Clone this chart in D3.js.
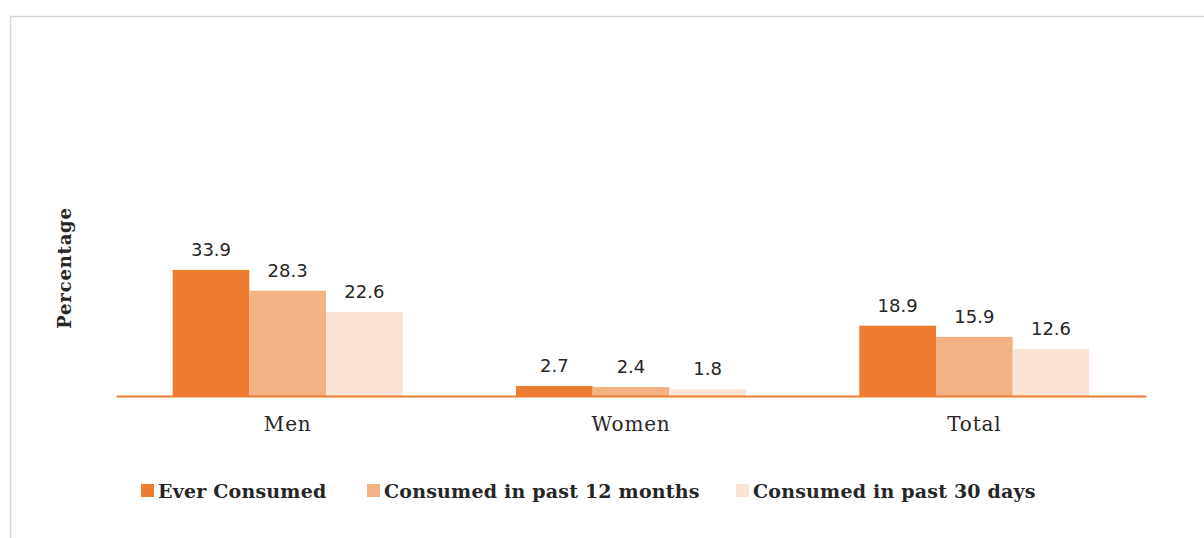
<!DOCTYPE html>
<html>
<head>
<meta charset="utf-8">
<script src="https://cdn.jsdelivr.net/npm/d3@7"></script>
<style>
  body { margin: 0; background: #fff; }
  svg { display: block; }
</style>
</head>
<body>
<svg width="1204" height="538"></svg>
<script>
const categories = ["Men", "Women", "Total"];
const seriesNames = ["Ever Consumed", "Consumed in past 12 months", "Consumed in past 30 days"];
const everConsumed = [33.9, 2.7, 18.9];
const past12Months = [28.3, 2.4, 15.9];
const past30Days = [22.6, 1.8, 12.6];
const colors = ["#ED7D31", "#F4B183", "#FBE3D6"];

const seriesValues = [everConsumed, past12Months, past30Days];

const width = 1204, height = 538;
const margin = {top: 24, right: 58, bottom: 142, left: 116};

const svg = d3.select("svg");

// chart frame
svg.append("rect")
    .attr("x", 10.5).attr("y", 16.5)
    .attr("width", 1300).attr("height", 600)
    .attr("fill", "none")
    .attr("stroke", "#D9D9D9")
    .attr("stroke-width", 1.5);

const plotW = width - margin.left - margin.right;
const plotH = height - margin.top - margin.bottom;

const g = svg.append("g")
    .attr("transform", `translate(${margin.left}, ${margin.top})`);

const x0 = d3.scaleBand()
    .domain(categories)
    .range([0, plotW])
    .paddingInner(0.33)
    .paddingOuter(0.165);

const x1 = d3.scaleBand()
    .domain(seriesNames)
    .range([0, x0.bandwidth()]);

const y = d3.scaleLinear()
    .domain([0, 100])
    .range([plotH, 0]);

const data = categories.map((c, i) => ({
    cat: c,
    vals: seriesNames.map((s, j) => ({series: s, value: seriesValues[j][i], color: colors[j]}))
}));

const groups = g.selectAll(".grp")
    .data(data)
    .join("g")
    .attr("class", "grp")
    .attr("transform", d => `translate(${x0(d.cat)}, 0)`);

groups.selectAll("rect")
    .data(d => d.vals)
    .join("rect")
    .attr("x", d => x1(d.series))
    .attr("y", d => y(d.value))
    .attr("width", x1.bandwidth())
    .attr("height", d => y(0) - y(d.value))
    .attr("fill", d => d.color);

groups.selectAll("text")
    .data(d => d.vals)
    .join("text")
    .attr("x", d => x1(d.series) + x1.bandwidth() / 2)
    .attr("y", d => y(d.value) - 14)
    .attr("text-anchor", "middle")
    .attr("font-family", "DejaVu Sans")
    .attr("font-size", "18px")
    .attr("fill", "#262626")
    .text(d => d.value.toFixed(1));

// x axis
const xAxis = g.append("g")
    .attr("transform", `translate(0, ${plotH})`)
    .call(d3.axisBottom(x0).tickSize(0).tickPadding(21));
xAxis.select(".domain")
    .attr("stroke", "#ED7D31")
    .attr("stroke-width", 2);
xAxis.selectAll("text")
    .attr("font-family", "DejaVu Serif")
    .attr("font-size", "20px")
    .attr("letter-spacing", "0.8")
    .attr("fill", "#262626");

// y title
svg.append("text")
    .attr("transform", "translate(71, 268) rotate(-90)")
    .attr("text-anchor", "middle")
    .attr("font-family", "DejaVu Serif")
    .attr("font-weight", "bold")
    .attr("font-size", "18px")
    .attr("letter-spacing", "0.8")
    .attr("fill", "#262626")
    .text("Percentage");

// legend
const legendX = [141, 367, 736];
const legend = svg.append("g");
seriesNames.forEach((s, i) => {
    const lg = legend.append("g").attr("transform", `translate(${legendX[i]}, 484)`);
    lg.append("rect")
        .attr("width", 13).attr("height", 13)
        .attr("fill", colors[i]);
    lg.append("text")
        .attr("x", 17).attr("y", 14)
        .attr("font-family", "DejaVu Serif")
        .attr("font-weight", "bold")
        .attr("font-size", "19px")
        .attr("letter-spacing", "0.2")
        .attr("fill", "#262626")
        .text(s);
});
</script>
</body>
</html>
